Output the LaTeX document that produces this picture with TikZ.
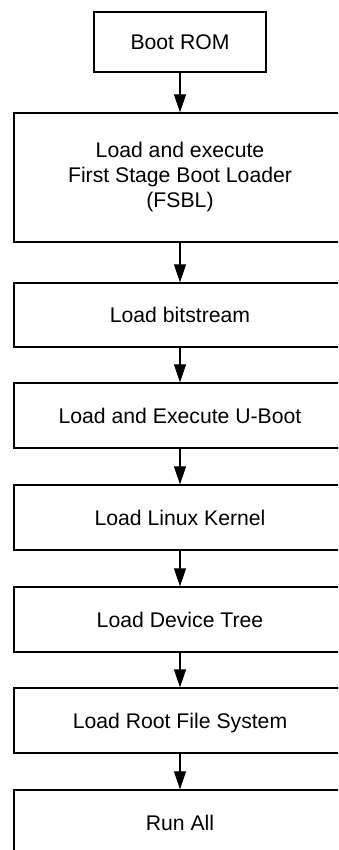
\documentclass[tikz,border=0pt]{standalone}
\usepackage{fontspec}
\setmainfont{Liberation Sans}
\usetikzlibrary{arrows.meta}
\begin{document}
\begin{tikzpicture}[x=1pt,y=1pt,
  box/.style={draw=black, line width=1.3pt, minimum width=332pt, inner sep=0pt,
    font=\fontsize{21.2}{25}\selectfont, align=center},
  one/.style={text height=15pt, text depth=0pt},
  flow/.style={line width=1.1pt, -{Triangle[length=18pt,width=12pt]}}]
\useasboundingbox (0,0) rectangle (338,-850);
\clip (0,0) rectangle (338,-850);
\node[box, one, minimum width=172pt, minimum height=60pt] (rom) at (180,-42) {Boot ROM};
\node[box, minimum height=129pt] (fsbl) at (180,-177.5) {Load and execute\\First Stage Boot Loader\\(FSBL)};
\node[box, one, minimum height=64pt] (bit) at (180,-315) {Load bitstream};
\node[box, one, minimum height=65pt] (uboot) at (180,-415.5) {Load and Execute U-Boot};
\node[box, one, minimum height=65pt] (kernel) at (180,-517.5) {Load Linux Kernel};
\node[box, one, minimum height=65pt] (dtree) at (180,-619.5) {Load Device Tree};
\node[box, one, minimum height=65pt] (rootfs) at (180,-720.5) {Load Root File System};
\node[box, one, minimum height=65pt] (run) at (180,-822.5) {Run All};
\draw[flow] (rom) -- (fsbl);
\draw[flow] (fsbl) -- (bit);
\draw[flow] (bit) -- (uboot);
\draw[flow] (uboot) -- (kernel);
\draw[flow] (kernel) -- (dtree);
\draw[flow] (dtree) -- (rootfs);
\draw[flow] (rootfs) -- (run);
\end{tikzpicture}
\end{document}
